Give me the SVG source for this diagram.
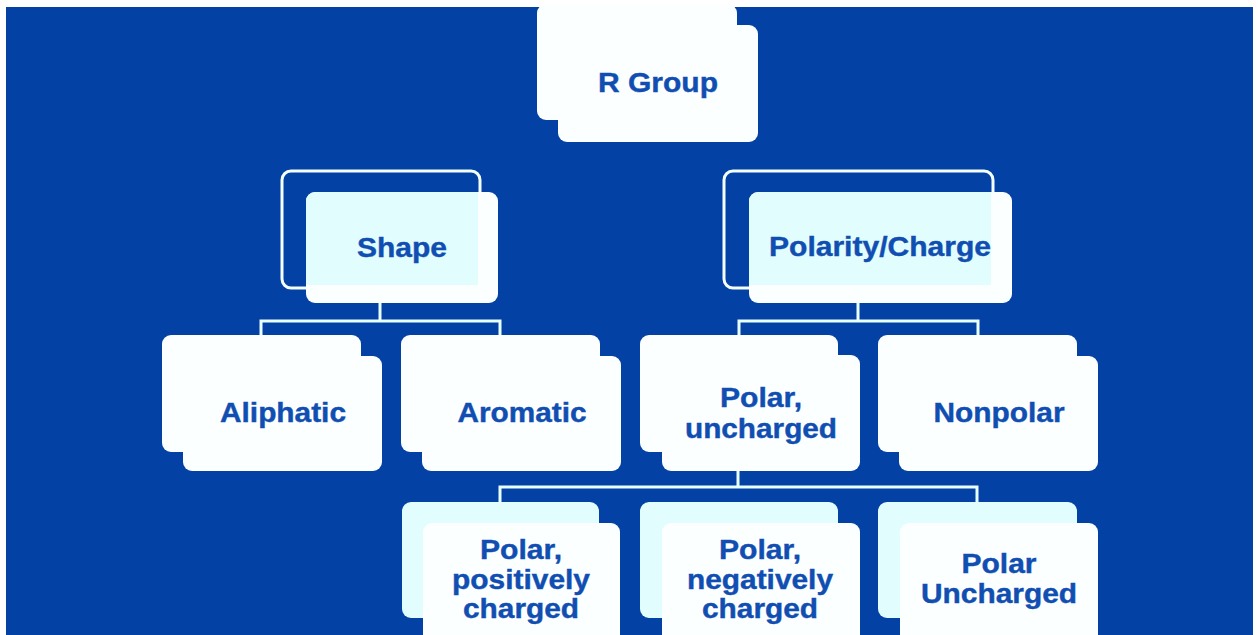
<svg xmlns="http://www.w3.org/2000/svg" width="1258" height="635" viewBox="0 0 1258 635">
<style>
.t{font-family:"Liberation Sans",Arial,sans-serif;font-weight:bold;font-size:27px;fill:#104EB2;stroke:#104EB2;stroke-width:0.4;text-anchor:middle}
.w{fill:#FCFFFF}
.c{fill:#E2FDFD}
.o{fill:none;stroke:#F4FFFF;stroke-width:3}
.ln{fill:none;stroke:#E8FFFF;stroke-width:3}
</style>
<rect x="0" y="0" width="1258" height="635" fill="#FFFFFF"/>
<rect x="6" y="7" width="1247" height="628" fill="#0441A4"/>
<g id="connectors">
<path class="ln" d="M380 303V321M261 336V321H500V336"/>
<path class="ln" d="M858 303V321M739 336V321H978V336"/>
<path class="ln" d="M738 470V487M500 503V487H977V503"/>
</g>
<g id="n-rgroup">
<rect class="w" x="537" y="4" width="200" height="116" rx="9"/>
<rect class="w" x="558" y="25" width="200" height="117" rx="9"/>
<text class="t" x="658" y="92" textLength="120" lengthAdjust="spacingAndGlyphs">R Group</text>
</g>
<g id="n-shape">
<rect class="o" x="282" y="171" width="198" height="117" rx="9"/>
<rect class="w" x="306" y="192" width="192" height="111" rx="9"/>
<path class="c" d="M306 201a9 9 0 0 1 9-9H478V285H306Z"/>
<text class="t" x="402" y="257" textLength="90" lengthAdjust="spacingAndGlyphs">Shape</text>
</g>
<g id="n-polarity">
<rect class="o" x="724" y="171" width="269" height="117" rx="9"/>
<rect class="w" x="749" y="192" width="263" height="111" rx="9"/>
<path class="c" d="M749 201a9 9 0 0 1 9-9H991V285H749Z"/>
<text class="t" x="880" y="256" textLength="222" lengthAdjust="spacingAndGlyphs">Polarity/Charge</text>
</g>
<g id="n-aliphatic">
<rect class="w" x="162" y="335" width="199" height="117" rx="9"/>
<rect class="w" x="183" y="356" width="199" height="115" rx="9"/>
<text class="t" x="283" y="422" textLength="126" lengthAdjust="spacingAndGlyphs">Aliphatic</text>
</g>
<g id="n-aromatic">
<rect class="w" x="401" y="335" width="199" height="117" rx="9"/>
<rect class="w" x="422" y="356" width="199" height="115" rx="9"/>
<text class="t" x="522" y="422" textLength="129" lengthAdjust="spacingAndGlyphs">Aromatic</text>
</g>
<g id="n-polar-uncharged">
<rect class="w" x="640" y="335" width="198" height="117" rx="9"/>
<rect class="w" x="662" y="355" width="198" height="116" rx="9"/>
<text class="t" x="761" y="407" textLength="82" lengthAdjust="spacingAndGlyphs">Polar,</text>
<text class="t" x="761" y="438" textLength="152" lengthAdjust="spacingAndGlyphs">uncharged</text>
</g>
<g id="n-nonpolar">
<rect class="w" x="878" y="335" width="199" height="117" rx="9"/>
<rect class="w" x="899" y="356" width="199" height="115" rx="9"/>
<text class="t" x="999" y="422" textLength="131" lengthAdjust="spacingAndGlyphs">Nonpolar</text>
</g>
<g id="n-positive">
<rect class="c" x="402" y="502" width="197" height="116" rx="9"/>
<rect class="w" x="423" y="523" width="197" height="125" rx="9"/>
<text class="t" x="521" y="559" textLength="82" lengthAdjust="spacingAndGlyphs">Polar,</text>
<text class="t" x="521" y="589" textLength="138" lengthAdjust="spacingAndGlyphs">positively</text>
<text class="t" x="521" y="618" textLength="116" lengthAdjust="spacingAndGlyphs">charged</text>
</g>
<g id="n-negative">
<rect class="c" x="640" y="502" width="198" height="116" rx="9"/>
<rect class="w" x="662" y="523" width="198" height="125" rx="9"/>
<text class="t" x="760" y="559" textLength="82" lengthAdjust="spacingAndGlyphs">Polar,</text>
<text class="t" x="760" y="589" textLength="146" lengthAdjust="spacingAndGlyphs">negatively</text>
<text class="t" x="760" y="618" textLength="116" lengthAdjust="spacingAndGlyphs">charged</text>
</g>
<g id="n-polar-uncharged2">
<rect class="c" x="878" y="502" width="199" height="116" rx="9"/>
<rect class="w" x="900" y="523" width="198" height="125" rx="9"/>
<text class="t" x="999" y="573" textLength="75" lengthAdjust="spacingAndGlyphs">Polar</text>
<text class="t" x="999" y="603" textLength="156" lengthAdjust="spacingAndGlyphs">Uncharged</text>
</g>
</svg>
